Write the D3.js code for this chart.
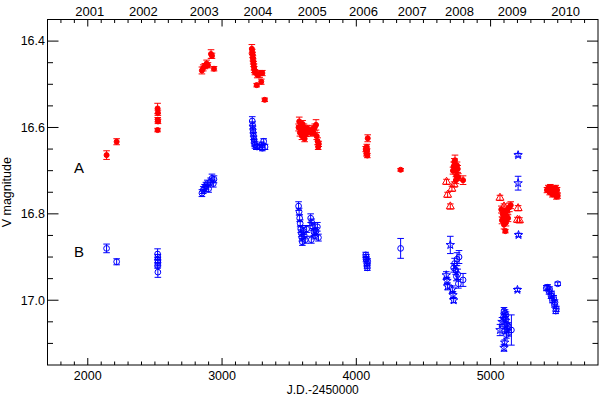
<!DOCTYPE html>
<html>
<head>
<meta charset="utf-8">
<script src="https://cdn.jsdelivr.net/npm/d3@7"></script>
<style>
  body { margin: 0; background: #fff; }
  text { font-family: "Liberation Sans", Arial, sans-serif; font-size: 12.5px; fill: #000; }
</style>
</head>
<body>
<svg id="chart" width="600" height="397"></svg>
<script>
// [J.D.-2450000, V mag, error]
const redCircles = [
  [2140,16.664,0.010],[2215,16.633,0.007],
  [2520,16.556,0.012],[2522,16.566,0.006],[2521,16.582,0.005],[2523,16.586,0.005],[2520,16.606,0.004],
  [2850,16.468,0.008],[2860,16.462,0.007],[2872,16.458,0.006],[2885,16.452,0.008],[2895,16.456,0.006],
  [2918,16.430,0.010],[2925,16.434,0.006],[2940,16.464,0.005],
  [3222,16.418,0.010],[3225,16.425,0.006],[3228,16.432,0.006],[3230,16.440,0.006],[3232,16.447,0.006],
  [3235,16.453,0.006],[3238,16.460,0.007],[3240,16.466,0.007],[3245,16.472,0.006],[3262,16.478,0.007],
  [3280,16.476,0.008],[3300,16.474,0.006],[3258,16.502,0.004],[3292,16.494,0.006],[3318,16.536,0.004],
  [3570,16.600,0.008],[3575,16.586,0.010],[3580,16.612,0.008],[3585,16.596,0.008],[3590,16.606,0.007],
  [3595,16.620,0.008],[3600,16.592,0.008],[3605,16.616,0.007],[3610,16.600,0.008],[3615,16.626,0.007],
  [3620,16.606,0.008],[3628,16.614,0.007],[3635,16.602,0.007],
  [3660,16.612,0.008],[3670,16.604,0.008],[3680,16.612,0.007],[3690,16.600,0.008],[3700,16.594,0.012],
  [3705,16.620,0.008],[3712,16.632,0.008],[3716,16.645,0.006],[3720,16.638,0.006],
  [4070,16.650,0.006],[4075,16.660,0.006],[4078,16.645,0.006],[4080,16.655,0.006],[4085,16.625,0.008],[4082,16.665,0.005],
  [4330,16.698,0.003],
  [4720,16.700,0.008],[4725,16.690,0.010],[4730,16.680,0.008],[4735,16.676,0.012],[4740,16.700,0.008],
  [4745,16.712,0.008],[4750,16.688,0.008],[4755,16.696,0.008],[4760,16.715,0.008],[4742,16.722,0.008],
  [4795,16.722,0.010],
  [5080,16.790,0.008],[5090,16.800,0.008],[5095,16.810,0.008],[5100,16.795,0.008],[5105,16.815,0.008],
  [5110,16.800,0.008],[5115,16.820,0.008],[5120,16.805,0.008],[5125,16.790,0.008],[5130,16.810,0.008],
  [5140,16.785,0.010],[5150,16.780,0.008],[5110,16.840,0.004],[5085,16.815,0.008],[5100,16.825,0.010],
  [5420,16.745,0.006],[5430,16.740,0.006],[5440,16.750,0.006],[5445,16.738,0.006],[5450,16.745,0.006],
  [5460,16.755,0.006],[5465,16.742,0.006],[5470,16.748,0.006],[5480,16.752,0.006],[5485,16.740,0.006],
  [5490,16.760,0.006],[5495,16.745,0.006],[5500,16.758,0.006]
];
const redTriangles = [
  [4672,16.726,0.006],[4680,16.756,0.006],[4700,16.783,0.006],[4712,16.742,0.006],[4728,16.732,0.006],
  [5070,16.763,0.006],[5100,16.783,0.006],[5205,16.787,0.006],[5200,16.814,0.006],[5215,16.815,0.006]
];
const blueCircles = [
  [2140,16.880,0.010],[2215,16.911,0.007],
  [2520,16.893,0.012],[2522,16.900,0.006],[2521,16.907,0.006],[2523,16.913,0.006],[2520,16.920,0.006],[2522,16.935,0.012],
  [2850,16.752,0.008],[2860,16.745,0.008],[2870,16.740,0.008],[2880,16.735,0.008],[2890,16.730,0.008],
  [2900,16.742,0.008],[2915,16.725,0.008],[2925,16.718,0.010],[2935,16.730,0.008],[2940,16.720,0.008],
  [3225,16.585,0.010],[3228,16.595,0.008],[3230,16.605,0.008],[3232,16.612,0.008],[3235,16.620,0.008],
  [3238,16.628,0.008],[3240,16.635,0.008],[3245,16.640,0.008],[3255,16.645,0.006],[3265,16.645,0.006],
  [3280,16.645,0.006],[3295,16.640,0.006],[3310,16.632,0.006],[3320,16.645,0.006],[3300,16.648,0.006],
  [3570,16.782,0.010],[3574,16.795,0.008],[3578,16.810,0.008],[3582,16.822,0.008],[3586,16.835,0.008],
  [3590,16.845,0.008],[3594,16.855,0.008],[3598,16.865,0.008],[3605,16.840,0.008],[3612,16.850,0.008],
  [3620,16.860,0.008],[3630,16.835,0.008],
  [3660,16.810,0.010],[3668,16.820,0.008],[3676,16.830,0.008],[3684,16.842,0.008],[3692,16.850,0.008],
  [3700,16.840,0.008],[3710,16.830,0.010],[3718,16.855,0.008],[3665,16.860,0.008],
  [4070,16.895,0.006],[4072,16.905,0.006],[4075,16.900,0.006],[4078,16.915,0.006],[4080,16.920,0.006],
  [4082,16.925,0.006],[4085,16.910,0.006],
  [4330,16.880,0.023],
  [4725,16.925,0.010],[4732,16.915,0.012],[4740,16.930,0.010],[4745,16.945,0.010],[4750,16.905,0.015],
  [4755,16.940,0.012],[4760,16.962,0.010],[4765,16.900,0.015],[4795,16.953,0.015],
  [5100,17.025,0.008],[5108,17.030,0.008],[5115,17.035,0.008],[5112,17.045,0.008],[5120,17.055,0.010],
  [5125,17.065,0.010],[5130,17.060,0.008],[5105,17.070,0.008],[5118,17.080,0.008],[5135,17.075,0.008],
  [5155,17.069,0.035],[5095,17.040,0.010],
  [5415,16.972,0.006],[5425,16.970,0.006],[5435,16.980,0.006],[5440,16.975,0.006],[5450,16.990,0.006],
  [5455,16.985,0.006],[5460,17.000,0.006],[5470,16.995,0.006],[5475,17.010,0.006],[5480,17.005,0.006],
  [5490,17.020,0.006],[5485,17.025,0.006],[5500,16.962,0.004]
];
const blueStars = [
  [4670,16.942,0.008],[4675,16.955,0.008],[4680,16.968,0.008],[4700,16.872,0.020],[4715,16.975,0.008],
  [4720,16.988,0.008],[4725,17.000,0.006],
  [5205,16.664,0.004],[5205,16.729,0.016],[5208,16.849,0.004],[5200,16.976,0.004],
  [5070,17.069,0.013],[5100,17.110,0.008],[5105,17.098,0.006],[5085,17.050,0.010]
];
const yearLabels = ["2001","2002","2003","2004","2005","2006","2007","2008","2009","2010"];
const yearPos = [2015, 2414, 2868, 3267, 3672, 4054, 4416, 4769, 5161, 5559];
const jdTicks = [2000, 3000, 4000, 5000];
const magTicks = [16.4, 16.6, 16.8, 17.0];
const starLabels = [["A", 16.693], ["B", 16.887]];

const svg = d3.select("#chart");
const mLeft = 47.5, mRight = 598, mTop = 19.5, mBottom = 365;

const x = d3.scaleLinear().domain([1700, 5800]).range([mLeft, mRight]);
const y = d3.scaleLinear().domain([16.35, 17.15]).range([mTop, mBottom]);

const RED = "#ff0000", BLUE = "#0000ff";

// minor ticks every 100 days / 0.05 mag
const xMinor = d3.range(1800, 5800, 100);
const yMinor = d3.range(16.4, 17.15, 0.05).map(v => +v.toFixed(2));
const isMajorX = v => v % 1000 === 0;
const isMajorY = v => Math.abs(v * 10 - Math.round(v * 10)) < 1e-6 && Math.round(v * 10) % 2 === 0;

const axes = svg.append("g").attr("stroke", "#000").attr("stroke-width", 1);
xMinor.forEach(v => {
  const len = isMajorX(v) ? 7 : 3.5;
  axes.append("line").attr("x1", x(v)).attr("x2", x(v)).attr("y1", mBottom).attr("y2", mBottom - len);
  axes.append("line").attr("x1", x(v)).attr("x2", x(v)).attr("y1", mTop).attr("y2", mTop + len);
});
yMinor.forEach(v => {
  const len = isMajorY(v) ? 11 : 5.5;
  axes.append("line").attr("y1", y(v)).attr("y2", y(v)).attr("x1", mLeft).attr("x2", mLeft + len);
  axes.append("line").attr("y1", y(v)).attr("y2", y(v)).attr("x1", mRight).attr("x2", mRight - len);
});
axes.append("rect").attr("x", mLeft).attr("y", mTop).attr("width", mRight - mLeft).attr("height", mBottom - mTop)
  .attr("fill", "none");

// tick labels
svg.append("g").selectAll("text").data(jdTicks).enter().append("text")
  .attr("x", d => x(d)).attr("y", 380).attr("text-anchor", "middle").text(d => d);
svg.append("g").selectAll("text").data(yearLabels).enter().append("text")
  .attr("x", (d, i) => x(yearPos[i])).attr("y", 16).attr("text-anchor", "middle")
  .style("font-size", "13px").text(d => d);
svg.append("g").selectAll("text").data(magTicks).enter().append("text")
  .attr("x", 45).attr("y", d => y(d)).attr("dy", "0.35em").attr("text-anchor", "end")
  .text(d => d.toFixed(1));

svg.append("text").attr("x", (mLeft + mRight) / 2).attr("y", 394).attr("text-anchor", "middle")
  .style("font-size", "12px").text("J.D.-2450000");
svg.append("text").attr("transform", `translate(11,${(mTop + mBottom) / 2}) rotate(-90)`)
  .attr("text-anchor", "middle").text("V magnitude");

svg.append("g").selectAll("text").data(starLabels).enter().append("text")
  .attr("x", 79).attr("y", d => y(d[1])).attr("dy", "0.35em").attr("text-anchor", "middle")
  .style("font-size", "15px").text(d => d[0]);

// error bars with caps
function drawErrors(data, color) {
  const g = svg.append("g").attr("stroke", color).attr("stroke-width", 1);
  data.forEach(d => {
    const cx = x(d[0]), y0 = y(d[1] - d[2]), y1 = y(d[1] + d[2]);
    g.append("line").attr("x1", cx).attr("x2", cx).attr("y1", y0).attr("y2", y1);
    g.append("line").attr("x1", cx - 3.3).attr("x2", cx + 3.3).attr("y1", y0).attr("y2", y0);
    g.append("line").attr("x1", cx - 3.3).attr("x2", cx + 3.3).attr("y1", y1).attr("y2", y1);
  });
}

function drawSymbols(data, color, type, size, filled) {
  svg.append("g").selectAll("path").data(data).enter().append("path")
    .attr("transform", d => `translate(${x(d[0])},${y(d[1])})`)
    .attr("d", d3.symbol().type(type).size(size))
    .attr("fill", filled ? color : "none")
    .attr("stroke", color).attr("stroke-width", 1);
}

drawErrors(redCircles, RED);
drawErrors(redTriangles, RED);
drawErrors(blueCircles, BLUE);
drawErrors(blueStars, BLUE);

drawSymbols(redCircles, RED, d3.symbolCircle, 20, true);
drawSymbols(redTriangles, RED, d3.symbolTriangle, 28, false);
drawSymbols(blueCircles, BLUE, d3.symbolCircle, 26, false);
drawSymbols(blueStars, BLUE, d3.symbolStar, 22, false);
</script>
</body>
</html>
